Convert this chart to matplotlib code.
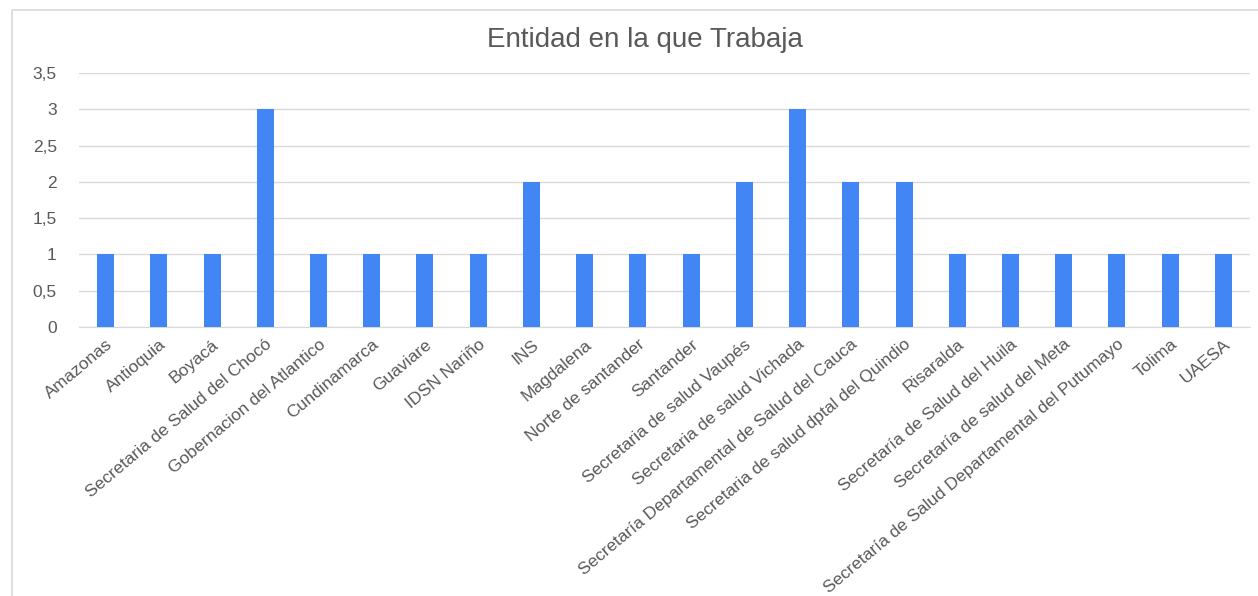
import matplotlib
matplotlib.use("Agg")
import matplotlib.pyplot as plt
from matplotlib.patches import Rectangle
from matplotlib.ticker import FuncFormatter

categories = ["Amazonas", "Antioquia", "Boyacá", "Secretaria de Salud del Chocó",
              "Gobernacion del Atlantico", "Cundinamarca", "Guaviare", "IDSN Nariño",
              "INS", "Magdalena", "Norte de santander", "Santander",
              "Secretaria de salud Vaupés", "Secretaria de salud Vichada",
              "Secretaría Departamental de Salud del Cauca",
              "Secretaria de salud dptal del Quindio", "Risaralda",
              "Secretaría de Salud del Huila", "Secretaría de salud del Meta",
              "Secretaría de Salud Departamental del Putumayo", "Tolima", "UAESA"]
values = [1, 1, 1, 3, 1, 1, 1, 1, 2, 1, 1, 1, 2, 3, 2, 2, 1, 1, 1, 1, 1, 1]
yticks = [0, 0.5, 1, 1.5, 2, 2.5, 3, 3.5]
title = "Entidad en la que Trabaja"

plt.rcParams['font.family'] = ['Liberation Sans', 'DejaVu Sans']
W, H = 1258, 596
fig = plt.figure(figsize=(W/100, H/100), dpi=100)
fig.patches.append(Rectangle((12/W, -0.1), 1.5, 1.1 - 10/H, transform=fig.transFigure,
                             fill=False, edgecolor='#d9d9d9', linewidth=1.2))
ax = fig.add_axes([79/W, 1 - 327/H, (1250-79)/W, (327-73)/H])
x = list(range(len(categories)))
ax.bar(x, values, width=0.32, color='#4285f4', zorder=3)
ax.set_xlim(-0.5, len(categories) - 0.5)
ax.set_ylim(0, 3.5)
ax.set_yticks(yticks)
ax.yaxis.set_major_formatter(FuncFormatter(lambda v, p: ('%g' % v).replace('.', ',')))
ax.grid(axis='y', color='#d9d9d9', linewidth=1, zorder=0)
for s in ['top', 'right', 'left']:
    ax.spines[s].set_visible(False)
ax.spines['bottom'].set_color('#d9d9d9')
ax.tick_params(axis='both', length=0, colors='#595959', labelsize=12.5)
ax.tick_params(axis='y', pad=16)
ax.set_xticks(x)
ax.set_xticklabels(categories, rotation=40, ha='right', rotation_mode='anchor', fontsize=12.6)
ax.tick_params(axis='x', pad=7)
fig.text(645/W, 1 - 40/H, title, ha='center', va='center', fontsize=20, color='#595959')
fig.savefig("out.png", dpi=100, facecolor='white')
